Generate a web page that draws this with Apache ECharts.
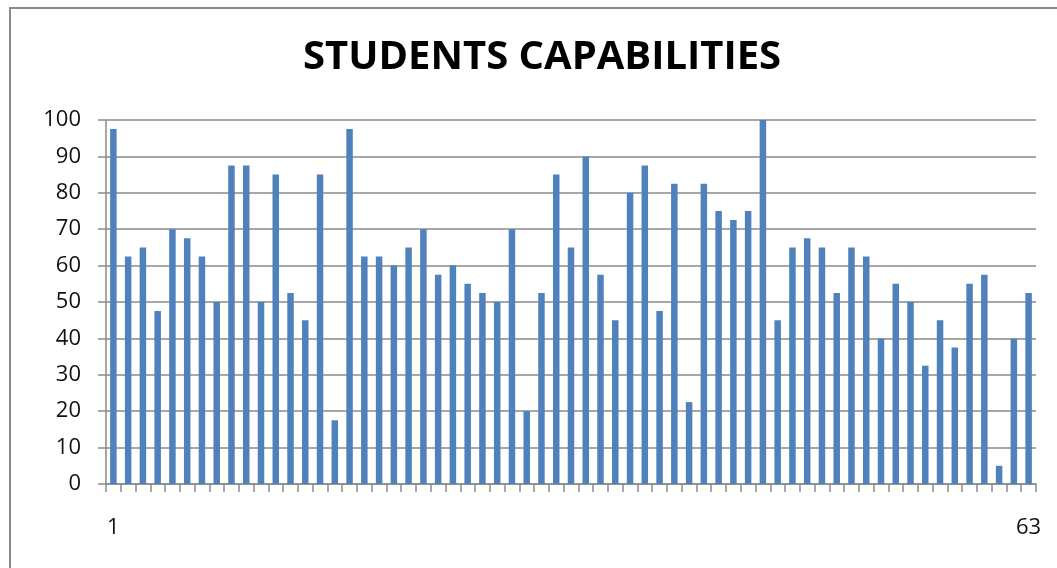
<!DOCTYPE html>
<html>
<head>
<meta charset="utf-8">
<script src="https://cdn.jsdelivr.net/npm/echarts@6/dist/echarts.min.js"></script>
<style>
html,body{margin:0;padding:0;background:#fff;}
#chart{width:1057px;height:568px;}
</style>
</head>
<body>
<div id="chart"></div>
<script>
const titleText = "STUDENTS CAPABILITIES";
const categories = [];
for (let i = 1; i <= 63; i++) categories.push(String(i));
const scores = [
  97.5, 62.5, 65, 47.5, 70, 67.5, 62.5, 50, 87.5, 87.5,
  50, 85, 52.5, 45, 85, 17.5, 97.5, 62.5, 62.5, 60,
  65, 70, 57.5, 60, 55, 52.5, 50, 70, 20, 52.5,
  85, 65, 90, 57.5, 45, 80, 87.5, 47.5, 82.5, 22.5,
  82.5, 75, 72.5, 75, 100, 45, 65, 67.5, 65, 52.5,
  65, 62.5, 40, 55, 50, 32.5, 45, 37.5, 55, 57.5,
  5, 40, 52.5
];
const shownLabels = ["1", "63"];

const chart = echarts.init(document.getElementById('chart'));
const gray = '#8a8a8a';
chart.setOption({
  animation: false,
  backgroundColor: '#ffffff',
  graphic: [{
    type: 'rect',
    shape: { x: 10, y: 8, width: 1100, height: 620 },
    style: { fill: 'none', stroke: gray, lineWidth: 2 },
    silent: true
  }],
  title: {
    text: titleText,
    left: 298,
    top: 33,
    textStyle: { fontFamily: 'Open Sans', fontWeight: 'bold', fontSize: 40, color: '#000' }
  },
  grid: { left: 106, right: 21, top: 120, bottom: 84, containLabel: false },
  xAxis: {
    type: 'category',
    data: categories,
    boundaryGap: true,
    axisLine: { show: true, lineStyle: { color: gray, width: 1.5 } },
    axisTick: { show: true, interval: 0, length: 8, lineStyle: { color: gray, width: 1.5 } },
    axisLabel: {
      interval: 0,
      formatter: function (v) { return shownLabels.indexOf(v) >= 0 ? v : ''; },
      margin: 33,
      fontFamily: 'Open Sans',
      fontSize: 22,
      color: '#111'
    },
    splitLine: { show: false }
  },
  yAxis: {
    type: 'value',
    min: 0, max: 100, interval: 10,
    axisLine: { show: true, lineStyle: { color: gray, width: 1.5 } },
    axisTick: { show: true, length: 8, lineStyle: { color: gray, width: 1.5 } },
    axisLabel: { margin: 25, fontFamily: 'Open Sans', fontSize: 22, color: '#111' },
    splitLine: { show: true, lineStyle: { color: gray, width: 1.5 } }
  },
  series: [{
    type: 'bar',
    data: scores,
    barCategoryGap: '56%',
    itemStyle: { color: '#4f81bd' }
  }]
});
</script>
</body>
</html>
